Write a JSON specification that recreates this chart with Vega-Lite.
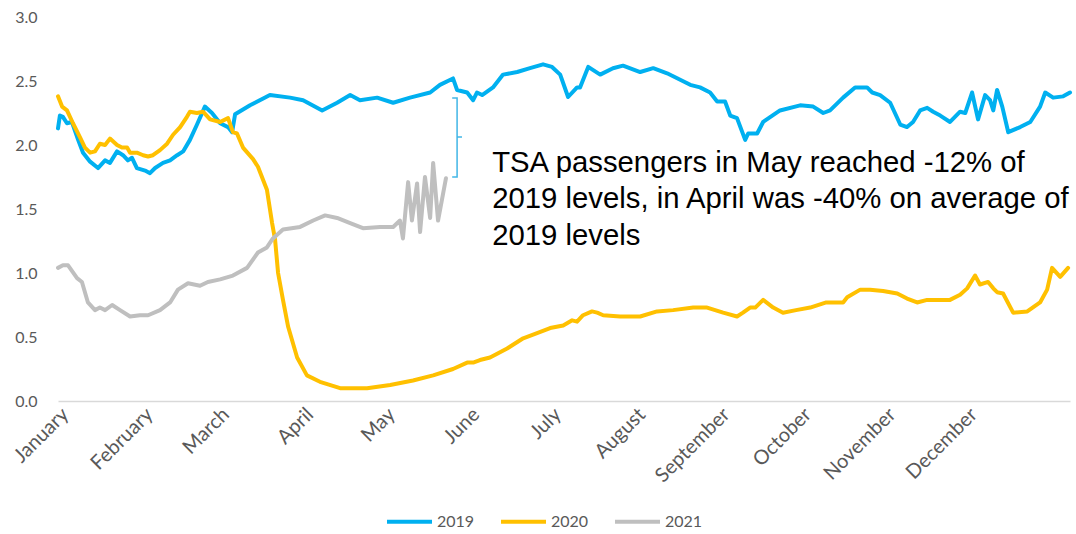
{
  "$schema": "https://vega.github.io/schema/vega-lite/v6.json",
  "width": 1012,
  "height": 384,
  "autosize": {"type": "none"},
  "padding": {"left": 58, "top": 17, "right": 6, "bottom": 133},
  "background": "white",
  "config": {"view": {"stroke": null}},
  "datasets": {
    "tsa": [
      {"year": "2019", "day": 0, "value": 2.13}, {"year": "2019", "day": 0.7, "value": 2.23}, {"year": "2019", "day": 1.8, "value": 2.22}, {"year": "2019", "day": 3.3, "value": 2.17}, {"year": "2019", "day": 5.1, "value": 2.18}, {"year": "2019", "day": 7.4, "value": 2.04}, {"year": "2019", "day": 9.2, "value": 1.94}, {"year": "2019", "day": 11.8, "value": 1.87}, {"year": "2019", "day": 14.7, "value": 1.82}, {"year": "2019", "day": 17.3, "value": 1.88}, {"year": "2019", "day": 19.1, "value": 1.86}, {"year": "2019", "day": 21.7, "value": 1.95}, {"year": "2019", "day": 23.9, "value": 1.92}, {"year": "2019", "day": 25.7, "value": 1.88}, {"year": "2019", "day": 27.2, "value": 1.9}, {"year": "2019", "day": 29.0, "value": 1.82}, {"year": "2019", "day": 32.0, "value": 1.8}, {"year": "2019", "day": 33.8, "value": 1.78}, {"year": "2019", "day": 35.7, "value": 1.82}, {"year": "2019", "day": 38.6, "value": 1.86}, {"year": "2019", "day": 41.2, "value": 1.88}, {"year": "2019", "day": 43.8, "value": 1.92}, {"year": "2019", "day": 46.0, "value": 1.95}, {"year": "2019", "day": 48.5, "value": 2.04}, {"year": "2019", "day": 51.1, "value": 2.16}, {"year": "2019", "day": 54.0, "value": 2.3}, {"year": "2019", "day": 56.6, "value": 2.25}, {"year": "2019", "day": 59.6, "value": 2.17}, {"year": "2019", "day": 62.5, "value": 2.14}, {"year": "2019", "day": 64.0, "value": 2.1}, {"year": "2019", "day": 65.1, "value": 2.24}, {"year": "2019", "day": 70.6, "value": 2.31}, {"year": "2019", "day": 77.9, "value": 2.39}, {"year": "2019", "day": 85.3, "value": 2.37}, {"year": "2019", "day": 90.1, "value": 2.35}, {"year": "2019", "day": 97.1, "value": 2.27}, {"year": "2019", "day": 102.6, "value": 2.33}, {"year": "2019", "day": 107.4, "value": 2.39}, {"year": "2019", "day": 111.0, "value": 2.35}, {"year": "2019", "day": 117.3, "value": 2.37}, {"year": "2019", "day": 123.2, "value": 2.33}, {"year": "2019", "day": 129.4, "value": 2.37}, {"year": "2019", "day": 136.8, "value": 2.41}, {"year": "2019", "day": 140.4, "value": 2.47}, {"year": "2019", "day": 145.2, "value": 2.52}, {"year": "2019", "day": 146.7, "value": 2.43}, {"year": "2019", "day": 150.4, "value": 2.41}, {"year": "2019", "day": 152.6, "value": 2.35}, {"year": "2019", "day": 154.0, "value": 2.41}, {"year": "2019", "day": 155.9, "value": 2.39}, {"year": "2019", "day": 159.9, "value": 2.45}, {"year": "2019", "day": 163.6, "value": 2.55}, {"year": "2019", "day": 168.8, "value": 2.57}, {"year": "2019", "day": 173.5, "value": 2.6}, {"year": "2019", "day": 178.3, "value": 2.63}, {"year": "2019", "day": 181.6, "value": 2.61}, {"year": "2019", "day": 184.6, "value": 2.55}, {"year": "2019", "day": 187.5, "value": 2.375}, {"year": "2019", "day": 190.8, "value": 2.45}, {"year": "2019", "day": 191.9, "value": 2.45}, {"year": "2019", "day": 194.9, "value": 2.61}, {"year": "2019", "day": 199.3, "value": 2.55}, {"year": "2019", "day": 204.0, "value": 2.6}, {"year": "2019", "day": 207.7, "value": 2.62}, {"year": "2019", "day": 214.0, "value": 2.57}, {"year": "2019", "day": 218.8, "value": 2.6}, {"year": "2019", "day": 223.9, "value": 2.56}, {"year": "2019", "day": 228.7, "value": 2.51}, {"year": "2019", "day": 232.4, "value": 2.47}, {"year": "2019", "day": 236.0, "value": 2.45}, {"year": "2019", "day": 239.7, "value": 2.41}, {"year": "2019", "day": 242.3, "value": 2.34}, {"year": "2019", "day": 245.2, "value": 2.34}, {"year": "2019", "day": 247.1, "value": 2.23}, {"year": "2019", "day": 249.6, "value": 2.21}, {"year": "2019", "day": 252.6, "value": 2.04}, {"year": "2019", "day": 253.7, "value": 2.09}, {"year": "2019", "day": 257.0, "value": 2.09}, {"year": "2019", "day": 259.2, "value": 2.18}, {"year": "2019", "day": 265.4, "value": 2.27}, {"year": "2019", "day": 272.8, "value": 2.31}, {"year": "2019", "day": 277.6, "value": 2.3}, {"year": "2019", "day": 281.3, "value": 2.25}, {"year": "2019", "day": 283.8, "value": 2.27}, {"year": "2019", "day": 288.6, "value": 2.37}, {"year": "2019", "day": 293.0, "value": 2.45}, {"year": "2019", "day": 297.4, "value": 2.45}, {"year": "2019", "day": 299.3, "value": 2.41}, {"year": "2019", "day": 302.2, "value": 2.39}, {"year": "2019", "day": 305.9, "value": 2.33}, {"year": "2019", "day": 309.6, "value": 2.16}, {"year": "2019", "day": 312.1, "value": 2.14}, {"year": "2019", "day": 314.3, "value": 2.18}, {"year": "2019", "day": 316.9, "value": 2.27}, {"year": "2019", "day": 319.5, "value": 2.29}, {"year": "2019", "day": 321.7, "value": 2.26}, {"year": "2019", "day": 324.3, "value": 2.23}, {"year": "2019", "day": 327.9, "value": 2.18}, {"year": "2019", "day": 331.6, "value": 2.26}, {"year": "2019", "day": 333.5, "value": 2.25}, {"year": "2019", "day": 336.0, "value": 2.41}, {"year": "2019", "day": 338.2, "value": 2.2}, {"year": "2019", "day": 340.8, "value": 2.39}, {"year": "2019", "day": 342.6, "value": 2.35}, {"year": "2019", "day": 343.8, "value": 2.27}, {"year": "2019", "day": 345.2, "value": 2.43}, {"year": "2019", "day": 347.1, "value": 2.3}, {"year": "2019", "day": 349.3, "value": 2.1}, {"year": "2019", "day": 353.7, "value": 2.14}, {"year": "2019", "day": 357.4, "value": 2.18}, {"year": "2019", "day": 361.0, "value": 2.3}, {"year": "2019", "day": 362.9, "value": 2.41}, {"year": "2019", "day": 365.8, "value": 2.37}, {"year": "2019", "day": 369.5, "value": 2.38}, {"year": "2019", "day": 372, "value": 2.41},
      {"year": "2020", "day": 0, "value": 2.38}, {"year": "2020", "day": 1.5, "value": 2.3}, {"year": "2020", "day": 3.3, "value": 2.27}, {"year": "2020", "day": 5.5, "value": 2.17}, {"year": "2020", "day": 8.1, "value": 2.06}, {"year": "2020", "day": 9.9, "value": 1.98}, {"year": "2020", "day": 11.8, "value": 1.94}, {"year": "2020", "day": 13.6, "value": 1.95}, {"year": "2020", "day": 15.4, "value": 2.01}, {"year": "2020", "day": 17.3, "value": 2.0}, {"year": "2020", "day": 19.1, "value": 2.05}, {"year": "2020", "day": 21.7, "value": 2.0}, {"year": "2020", "day": 23.5, "value": 1.98}, {"year": "2020", "day": 25.4, "value": 1.98}, {"year": "2020", "day": 26.5, "value": 1.94}, {"year": "2020", "day": 29.0, "value": 1.94}, {"year": "2020", "day": 31.3, "value": 1.92}, {"year": "2020", "day": 33.1, "value": 1.91}, {"year": "2020", "day": 34.9, "value": 1.92}, {"year": "2020", "day": 37.5, "value": 1.96}, {"year": "2020", "day": 40.1, "value": 2.01}, {"year": "2020", "day": 42.3, "value": 2.08}, {"year": "2020", "day": 44.9, "value": 2.14}, {"year": "2020", "day": 47.4, "value": 2.22}, {"year": "2020", "day": 48.5, "value": 2.26}, {"year": "2020", "day": 51.1, "value": 2.25}, {"year": "2020", "day": 53.3, "value": 2.26}, {"year": "2020", "day": 55.9, "value": 2.2}, {"year": "2020", "day": 59.6, "value": 2.18}, {"year": "2020", "day": 62.5, "value": 2.21}, {"year": "2020", "day": 64.3, "value": 2.1}, {"year": "2020", "day": 65.8, "value": 2.09}, {"year": "2020", "day": 68.0, "value": 1.98}, {"year": "2020", "day": 71.7, "value": 1.89}, {"year": "2020", "day": 73.5, "value": 1.83}, {"year": "2020", "day": 76.8, "value": 1.65}, {"year": "2020", "day": 78.7, "value": 1.39}, {"year": "2020", "day": 79.8, "value": 1.26}, {"year": "2020", "day": 80.9, "value": 1.0}, {"year": "2020", "day": 82.7, "value": 0.79}, {"year": "2020", "day": 84.6, "value": 0.58}, {"year": "2020", "day": 87.9, "value": 0.34}, {"year": "2020", "day": 91.5, "value": 0.2}, {"year": "2020", "day": 96.3, "value": 0.15}, {"year": "2020", "day": 103.7, "value": 0.1}, {"year": "2020", "day": 113.6, "value": 0.1}, {"year": "2020", "day": 122.1, "value": 0.125}, {"year": "2020", "day": 130.5, "value": 0.16}, {"year": "2020", "day": 137.9, "value": 0.2}, {"year": "2020", "day": 145.2, "value": 0.25}, {"year": "2020", "day": 150.4, "value": 0.3}, {"year": "2020", "day": 152.6, "value": 0.3}, {"year": "2020", "day": 155.1, "value": 0.32}, {"year": "2020", "day": 158.8, "value": 0.34}, {"year": "2020", "day": 165.1, "value": 0.41}, {"year": "2020", "day": 171.0, "value": 0.49}, {"year": "2020", "day": 176.1, "value": 0.53}, {"year": "2020", "day": 180.9, "value": 0.57}, {"year": "2020", "day": 185.7, "value": 0.59}, {"year": "2020", "day": 189.0, "value": 0.63}, {"year": "2020", "day": 190.8, "value": 0.62}, {"year": "2020", "day": 193.0, "value": 0.67}, {"year": "2020", "day": 196.3, "value": 0.7}, {"year": "2020", "day": 198.2, "value": 0.69}, {"year": "2020", "day": 200.4, "value": 0.67}, {"year": "2020", "day": 206.6, "value": 0.66}, {"year": "2020", "day": 214.0, "value": 0.66}, {"year": "2020", "day": 220.2, "value": 0.7}, {"year": "2020", "day": 226.1, "value": 0.71}, {"year": "2020", "day": 233.5, "value": 0.73}, {"year": "2020", "day": 238.6, "value": 0.73}, {"year": "2020", "day": 244.5, "value": 0.69}, {"year": "2020", "day": 249.6, "value": 0.66}, {"year": "2020", "day": 251.8, "value": 0.69}, {"year": "2020", "day": 254.4, "value": 0.73}, {"year": "2020", "day": 256.3, "value": 0.73}, {"year": "2020", "day": 259.2, "value": 0.79}, {"year": "2020", "day": 262.9, "value": 0.73}, {"year": "2020", "day": 266.5, "value": 0.69}, {"year": "2020", "day": 271.3, "value": 0.71}, {"year": "2020", "day": 276.5, "value": 0.73}, {"year": "2020", "day": 282.4, "value": 0.77}, {"year": "2020", "day": 288.6, "value": 0.77}, {"year": "2020", "day": 290.1, "value": 0.81}, {"year": "2020", "day": 294.9, "value": 0.87}, {"year": "2020", "day": 298.5, "value": 0.87}, {"year": "2020", "day": 303.3, "value": 0.86}, {"year": "2020", "day": 308.5, "value": 0.84}, {"year": "2020", "day": 312.1, "value": 0.8}, {"year": "2020", "day": 315.8, "value": 0.77}, {"year": "2020", "day": 319.5, "value": 0.79}, {"year": "2020", "day": 327.9, "value": 0.79}, {"year": "2020", "day": 331.6, "value": 0.83}, {"year": "2020", "day": 334.2, "value": 0.88}, {"year": "2020", "day": 337.1, "value": 0.98}, {"year": "2020", "day": 338.9, "value": 0.91}, {"year": "2020", "day": 341.9, "value": 0.93}, {"year": "2020", "day": 343.8, "value": 0.88}, {"year": "2020", "day": 345.2, "value": 0.85}, {"year": "2020", "day": 347.4, "value": 0.84}, {"year": "2020", "day": 351.1, "value": 0.69}, {"year": "2020", "day": 356.3, "value": 0.7}, {"year": "2020", "day": 361.0, "value": 0.77}, {"year": "2020", "day": 363.6, "value": 0.87}, {"year": "2020", "day": 365.4, "value": 1.04}, {"year": "2020", "day": 368.4, "value": 0.97}, {"year": "2020", "day": 371.3, "value": 1.04},
      {"year": "2021", "day": 0, "value": 1.04}, {"year": "2021", "day": 1.8, "value": 1.06}, {"year": "2021", "day": 3.7, "value": 1.06}, {"year": "2021", "day": 7.0, "value": 0.96}, {"year": "2021", "day": 8.8, "value": 0.93}, {"year": "2021", "day": 11.0, "value": 0.77}, {"year": "2021", "day": 13.6, "value": 0.71}, {"year": "2021", "day": 15.4, "value": 0.73}, {"year": "2021", "day": 17.3, "value": 0.71}, {"year": "2021", "day": 19.9, "value": 0.75}, {"year": "2021", "day": 22.8, "value": 0.71}, {"year": "2021", "day": 26.5, "value": 0.66}, {"year": "2021", "day": 30.1, "value": 0.67}, {"year": "2021", "day": 33.1, "value": 0.67}, {"year": "2021", "day": 37.5, "value": 0.71}, {"year": "2021", "day": 41.2, "value": 0.77}, {"year": "2021", "day": 44.1, "value": 0.87}, {"year": "2021", "day": 47.8, "value": 0.92}, {"year": "2021", "day": 52.2, "value": 0.9}, {"year": "2021", "day": 55.1, "value": 0.93}, {"year": "2021", "day": 59.6, "value": 0.95}, {"year": "2021", "day": 64.3, "value": 0.98}, {"year": "2021", "day": 69.5, "value": 1.04}, {"year": "2021", "day": 73.5, "value": 1.16}, {"year": "2021", "day": 76.8, "value": 1.2}, {"year": "2021", "day": 79.0, "value": 1.27}, {"year": "2021", "day": 82.7, "value": 1.34}, {"year": "2021", "day": 89.0, "value": 1.36}, {"year": "2021", "day": 93.8, "value": 1.41}, {"year": "2021", "day": 98.2, "value": 1.45}, {"year": "2021", "day": 102.6, "value": 1.43}, {"year": "2021", "day": 107.4, "value": 1.39}, {"year": "2021", "day": 112.1, "value": 1.35}, {"year": "2021", "day": 118.4, "value": 1.36}, {"year": "2021", "day": 123.2, "value": 1.36}, {"year": "2021", "day": 125.7, "value": 1.41}, {"year": "2021", "day": 126.8, "value": 1.27}, {"year": "2021", "day": 128.7, "value": 1.71}, {"year": "2021", "day": 130.1, "value": 1.41}, {"year": "2021", "day": 132.0, "value": 1.7}, {"year": "2021", "day": 133.1, "value": 1.32}, {"year": "2021", "day": 134.9, "value": 1.75}, {"year": "2021", "day": 136.8, "value": 1.43}, {"year": "2021", "day": 137.9, "value": 1.86}, {"year": "2021", "day": 139.7, "value": 1.41}, {"year": "2021", "day": 142.6, "value": 1.74}
    ],
    "brace": [
      {"order": 1, "day": 144.9, "value": 2.367},
      {"order": 2, "day": 146.7, "value": 2.367},
      {"order": 3, "day": 146.7, "value": 2.0625},
      {"order": 4, "day": 148.5, "value": 2.0625},
      {"order": 5, "day": 146.7, "value": 2.0625},
      {"order": 6, "day": 146.7, "value": 1.75},
      {"order": 7, "day": 144.9, "value": 1.75}
    ],
    "note": [
      {"day": 159.6, "value": 1.86}
    ]
  },
  "layer": [
    {
      "data": {"name": "tsa"},
      "mark": {"type": "line", "strokeWidth": 4, "strokeJoin": "round", "strokeCap": "round"},
      "encoding": {
        "x": {
          "field": "day", "type": "quantitative",
          "scale": {"domain": [0, 372], "nice": false, "zero": false},
          "axis": {
            "title": null,
            "values": [0, 31, 59, 90, 120, 151, 181, 212, 243, 273, 304, 334],
            "labelExpr": "timeFormat(datetime(2019, 0, 1 + datum.value), '%B')",
            "labelAngle": -45, "labelAlign": "right", "labelBaseline": "top",
            "labelPadding": 3, "labelFont": "Lato", "labelFontSize": 20, "labelColor": "#595959",
            "ticks": false, "grid": false, "domainColor": "#D9D9D9", "domainWidth": 1.5,
            "labelOverlap": false, "labelBound": false, "labelFlush": false
          }
        },
        "y": {
          "field": "value", "type": "quantitative",
          "scale": {"domain": [0, 3], "nice": false},
          "axis": {
            "title": null, "values": [0, 0.5, 1, 1.5, 2, 2.5, 3], "format": ".1f",
            "ticks": false, "domain": false, "grid": false,
            "labelPadding": 21, "labelFont": "Lato", "labelFontSize": 16, "labelColor": "#595959"
          }
        },
        "color": {
          "field": "year", "type": "nominal",
          "scale": {"domain": ["2019", "2020", "2021"], "range": ["#00B0F0", "#FFC000", "#BFBFBF"]},
          "legend": {
            "title": null, "orient": "none", "direction": "horizontal",
            "legendX": 327, "legendY": 480,
            "symbolType": "stroke", "symbolSize": 2025, "symbolStrokeWidth": 4,
            "labelFont": "Lato", "labelFontSize": 16, "labelColor": "#595959",
            "labelOffset": 3, "columnPadding": 18
          }
        }
      }
    },
    {
      "data": {"name": "brace"},
      "mark": {"type": "line", "color": "#41B6E6", "strokeWidth": 1.5},
      "encoding": {
        "x": {"field": "day", "type": "quantitative"},
        "y": {"field": "value", "type": "quantitative"},
        "order": {"field": "order", "type": "quantitative"}
      }
    },
    {
      "data": {"name": "note"},
      "mark": {"type": "text", "align": "left", "baseline": "middle", "font": "Liberation Sans", "fontSize": 29.3, "lineHeight": 36.5, "color": "#000000"},
      "encoding": {
        "x": {"field": "day", "type": "quantitative"},
        "y": {"field": "value", "type": "quantitative"},
        "text": {"value": ["TSA passengers in May reached -12% of", "2019 levels, in April was -40% on average of", "2019 levels"]}
      }
    }
  ]
}
